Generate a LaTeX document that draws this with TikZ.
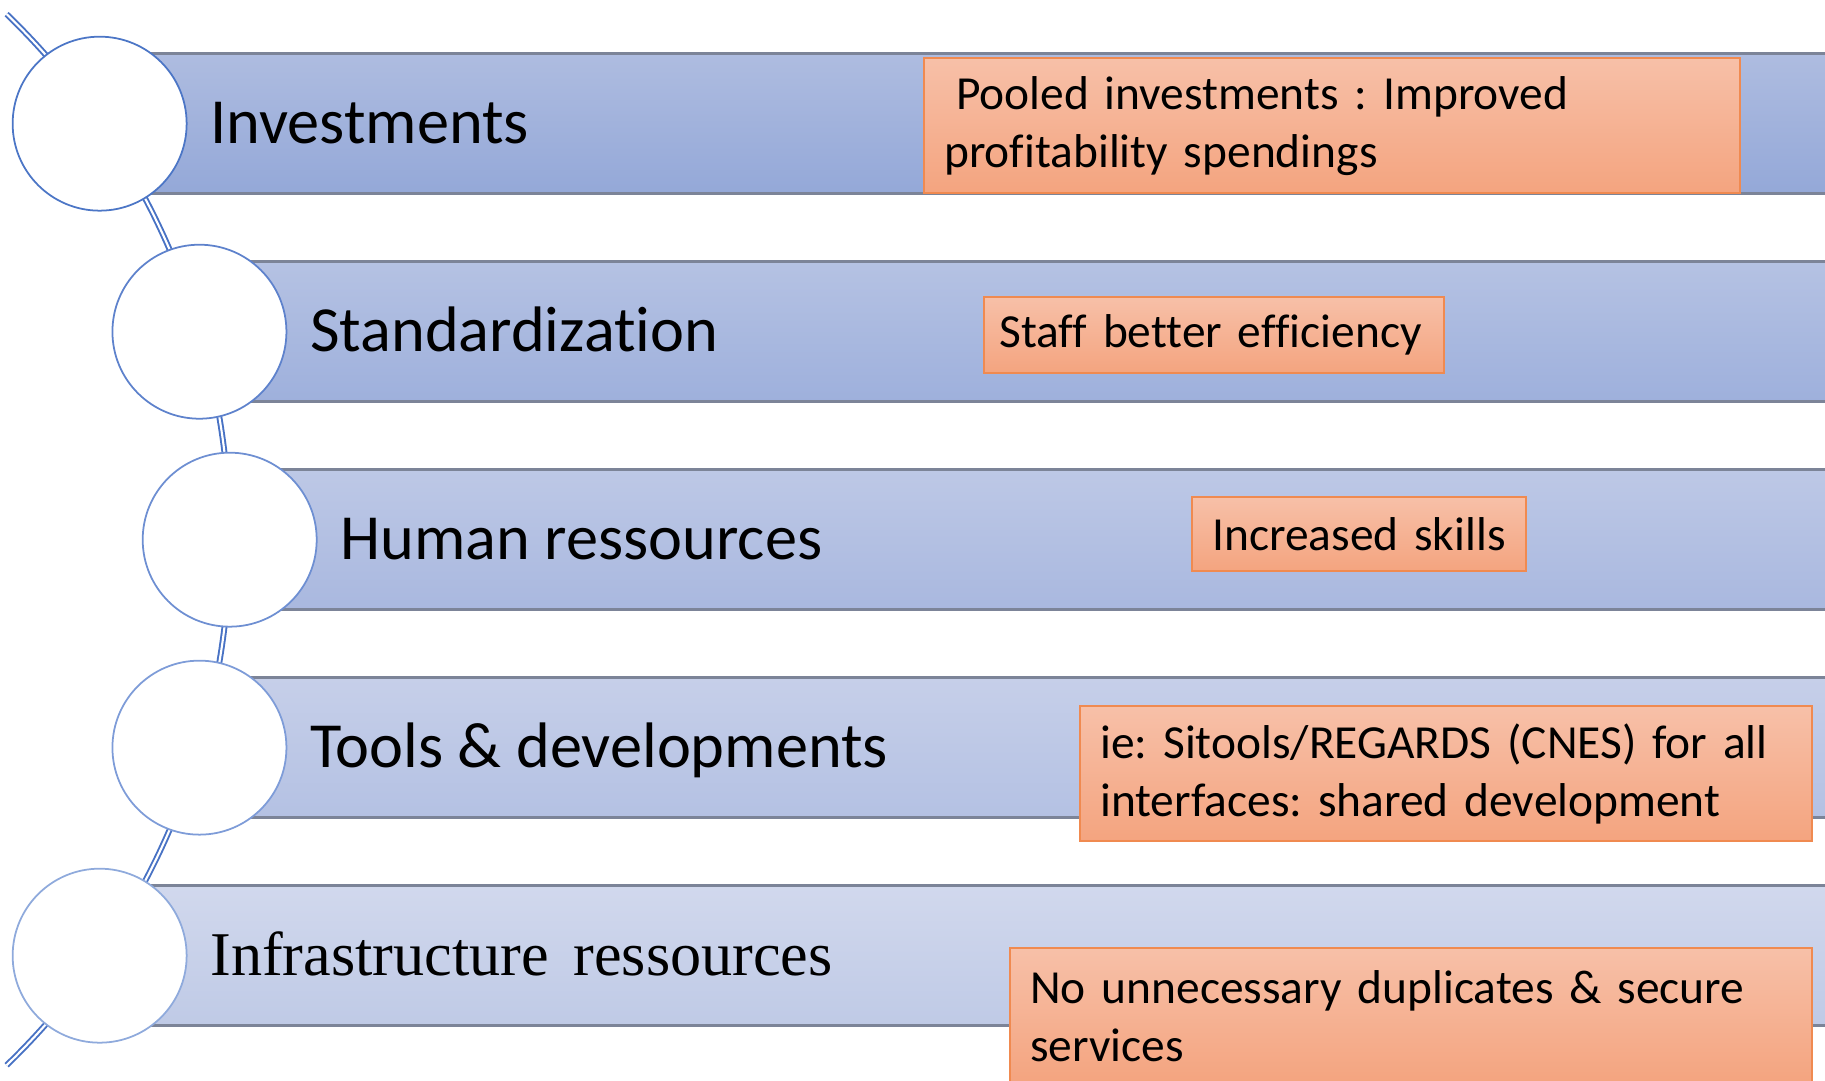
\documentclass[tikz,border=0pt]{standalone}
\usepackage{fontspec}
\setmainfont{Carlito}[Ligatures=NoCommon]
\newfontfamily\timesfont{Liberation Serif}
\usetikzlibrary{calc}
\frenchspacing

\begin{document}
\begin{tikzpicture}[
  ring/.style={circle,draw,line width=0.5pt,fill=white,minimum size=1.74cm,inner sep=0pt},
  lbl/.style={anchor=base west,inner sep=0pt,font=\fontsize{18.3}{22}\selectfont},
  note/.style={rectangle,draw=note_edge,line width=0.7pt,anchor=north west,align=left,
    inner xsep=0.2cm,inner ysep=0pt,top color=note_top,bottom color=note_bot,
    minimum height=1.35cm,font=\fontsize{13.5}{16.5}\selectfont},
  barline/.style={draw=bar_edge,line width=0.8pt},
  arcline/.style={draw=arc_blue,line width=0.55pt,double=white,double distance=0.6pt}
]
\definecolor{arc_blue}{RGB}{72,114,196}   %#4872C4
\definecolor{bar_edge}{RGB}{124,132,152}  %#7C8498
\definecolor{note_top}{RGB}{247,192,168}  %#F7C0A8
\definecolor{note_bot}{RGB}{244,164,127}  %#F4A47F
\definecolor{note_edge}{RGB}{240,138,80}  %#F08A50
\definecolor{bar_a_top}{RGB}{174,188,224}
\definecolor{bar_a_bot}{RGB}{148,168,216}
\definecolor{bar_b_top}{RGB}{181,194,227}
\definecolor{bar_b_bot}{RGB}{158,176,220}
\definecolor{bar_c_top}{RGB}{189,200,230}
\definecolor{bar_c_bot}{RGB}{169,184,223}
\definecolor{bar_d_top}{RGB}{198,207,233}
\definecolor{bar_d_bot}{RGB}{180,193,227}
\definecolor{bar_e_top}{RGB}{209,216,237}
\definecolor{bar_e_bot}{RGB}{191,202,230}

\useasboundingbox (0,0) rectangle (18.25,10.81);
\clip (0,0) rectangle (18.25,10.81);

\def\R{7.306}
\def\ta{34.71}
\def\tb{16.54}
\def\h{0.70}

\coordinate (C)  at (-5.009,5.413);
\coordinate (P1) at ($(C)+(\ta:\R)$);
\coordinate (P2) at ($(C)+(\tb:\R)$);
\coordinate (P3) at ($(C)+(0:\R)$);
\coordinate (P4) at ($(C)+(-\tb:\R)$);
\coordinate (P5) at ($(C)+(-\ta:\R)$);

% the spine
\draw [arcline] ($(C)+(46:\R)$) arc [start angle=46,end angle=-46,radius=\R];

% bars
\shade [top color=bar_a_top,bottom color=bar_a_bot] ($(P1)+(0,\h)$) rectangle ($(P1)+(20,-\h)$);
\shade [top color=bar_b_top,bottom color=bar_b_bot] ($(P2)+(0,\h)$) rectangle ($(P2)+(20,-\h)$);
\shade [top color=bar_c_top,bottom color=bar_c_bot] ($(P3)+(0,\h)$) rectangle ($(P3)+(20,-\h)$);
\shade [top color=bar_d_top,bottom color=bar_d_bot] ($(P4)+(0,\h)$) rectangle ($(P4)+(20,-\h)$);
\shade [top color=bar_e_top,bottom color=bar_e_bot] ($(P5)+(0,\h)$) rectangle ($(P5)+(20,-\h)$);
\draw [barline] ($(P1)+(0,\h)$) -- ++(20,0) ($(P1)+(0,-\h)$) -- ++(20,0);
\draw [barline] ($(P2)+(0,\h)$) -- ++(20,0) ($(P2)+(0,-\h)$) -- ++(20,0);
\draw [barline] ($(P3)+(0,\h)$) -- ++(20,0) ($(P3)+(0,-\h)$) -- ++(20,0);
\draw [barline] ($(P4)+(0,\h)$) -- ++(20,0) ($(P4)+(0,-\h)$) -- ++(20,0);
\draw [barline] ($(P5)+(0,\h)$) -- ++(20,0) ($(P5)+(0,-\h)$) -- ++(20,0);

% circles
\node [ring,draw={rgb,255:red,76;green,118;blue,198}]  (c1) at (P1) {};
\node [ring,draw={rgb,255:red,94;green,130;blue,204}]  (c2) at (P2) {};
\node [ring,draw={rgb,255:red,110;green,143;blue,210}] (c3) at (P3) {};
\node [ring,draw={rgb,255:red,126;green,156;blue,216}] (c4) at (P4) {};
\node [ring,draw={rgb,255:red,143;green,170;blue,220}] (c5) at (P5) {};

% labels
\node [lbl] (l1) at ($(c1)+(1.10,-0.20)$) {Investments};
\node [lbl] (l2) at ($(c2)+(1.10,-0.20)$) {Standardization};
\node [lbl] (l3) at ($(c3)+(1.10,-0.20)$) {Human ressources};
\node [lbl] (l4) at ($(c4)+(1.10,-0.20)$) {Tools \& developments};
\node [lbl,font=\timesfont\fontsize{17.7}{21.2}\selectfont] (l5) at ($(c5)+(1.10,-0.20)$) {Infrastructure\hspace{7pt}ressources};

% notes
\node [note,text width=7.76cm] (n1) at (9.23,10.24) {\hspace*{0.25em}Pooled investments : Improved\\profitability spendings};
\node [note,inner xsep=0.15cm,text width=4.30cm,minimum height=0.76cm] (n2) at (9.83,7.85) {Staff better efficiency};
\node [note,inner xsep=0.15cm,text width=3.04cm,minimum height=0.74cm] (n3) at (11.91,5.85) {\hspace*{0.05cm}Increased skills};
\node [note,text width=6.92cm] (n4) at (10.79,3.76) {ie: Sitools/REGARDS (CNES) for all\\interfaces: shared development};
\node [note,text width=7.62cm] (n5) at (10.09,1.34) {No unnecessary duplicates \& secure\\services};

\end{tikzpicture}
\end{document}
